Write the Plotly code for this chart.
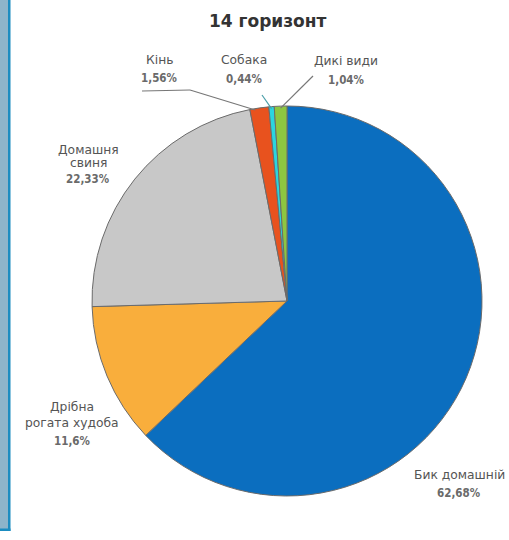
import math
import plotly.graph_objects as go

categories = ["Бик домашній", "Дрібна рогата худоба", "Домашня свиня", "Кінь", "Собака", "Дикі види"]
values = [62.68, 11.6, 22.33, 1.56, 0.44, 1.04]
value_labels = ["62,68%", "11,6%", "22,33%", "1,56%", "0,44%", "1,04%"]
label_lines = [["Бик домашній"], ["Дрібна", "рогата худоба"], ["Домашня", "свиня"], ["Кінь"], ["Собака"], ["Дикі види"]]
colors = ["#0b6ebf", "#f9ae3c", "#c8c8c8", "#e8521e", "#2bd5df", "#8dc640"]

W, H = 509, 540
cx, cy, R = 287, 301, 195  # pie centre / radius in pixels

def px(x):
    return x / W

def py(y):
    return 1 - y / H

fig = go.Figure(go.Pie(
    labels=categories, values=values, sort=False, direction="clockwise", rotation=0,
    marker=dict(colors=colors, line=dict(color="#6b6b6b", width=1)),
    textinfo="none", hoverinfo="label+percent", showlegend=False,
    domain=dict(x=[px(cx - R), px(cx + R)], y=[py(cy + R), py(cy - R)]),
))

# label positions (pixels): centre x, name line y's, percent y
label_pos = [
    (459, [475], 493),
    (72, [407, 423], 441),
    (88, [150, 163], 179),
    (159, [60], 78),
    (244, [60], 79),
    (346, [61], 80),
]
name_font = dict(family="DejaVu Sans, sans-serif", size=12.3, color="#555555")
pct_font = dict(family="DejaVu Sans Condensed, DejaVu Sans, sans-serif", size=11.5, color="#6a6a6a")
annotations = []
for i, (x, ys, yp) in enumerate(label_pos):
    for line, y in zip(label_lines[i], ys):
        annotations.append(dict(x=px(x), y=py(y), xref="paper", yref="paper", text=line,
                                showarrow=False, font=name_font, xanchor="center", yanchor="middle"))
    annotations.append(dict(x=px(x), y=py(yp), xref="paper", yref="paper", text="<b>" + value_labels[i] + "</b>",
                            showarrow=False, font=pct_font, xanchor="center", yanchor="middle"))

annotations.append(dict(x=px(268), y=py(21), xref="paper", yref="paper", text="<b>14 горизонт</b>",
                        showarrow=False, font=dict(family="DejaVu Sans, sans-serif", size=17, color="#333333"),
                        xanchor="center", yanchor="middle"))

# slice mid-angle edge points for leader lines
total = sum(values)
cum = 0
edge = []
for v in values:
    mid = (cum + v / 2) / total * 2 * math.pi
    edge.append((cx + R * math.sin(mid), cy - R * math.cos(mid)))
    cum += v

shapes = []
def line(x0, y0, x1, y1, color="#777777", width=1.2):
    shapes.append(dict(type="line", xref="paper", yref="paper", x0=px(x0), y0=py(y0), x1=px(x1), y1=py(y1),
                       line=dict(color=color, width=width)))

# Кінь leader
line(142, 91, 190, 90)
line(190, 90, edge[3][0] - 4, edge[3][1] + 2)
# Собака leader
line(262, 95, edge[4][0], edge[4][1] + 2, color="#4a9ea8")
# Дикі види leader
line(313, 76, edge[5][0], edge[5][1] + 2)

# left decorative strip
shapes.append(dict(type="rect", xref="paper", yref="paper", x0=0, x1=px(8.5), y0=py(530), y1=1,
                   fillcolor="#8db4ca", line=dict(width=0), layer="below"))
shapes.append(dict(type="rect", xref="paper", yref="paper", x0=px(8), x1=px(10.5), y0=py(531), y1=1,
                   fillcolor="#1b8cc0", line=dict(width=0)))
shapes.append(dict(type="rect", xref="paper", yref="paper", x0=0, x1=px(10.5), y0=py(531), y1=py(528.5),
                   fillcolor="#1b8cc0", line=dict(width=0)))

fig.update_layout(width=W, height=H, margin=dict(l=0, r=0, t=0, b=0),
                  paper_bgcolor="white", plot_bgcolor="white",
                  annotations=annotations, shapes=shapes)
fig.write_html("out.html", config={"displayModeBar": False},
               post_script="document.body.style.margin='0';document.body.style.overflow='hidden';")
